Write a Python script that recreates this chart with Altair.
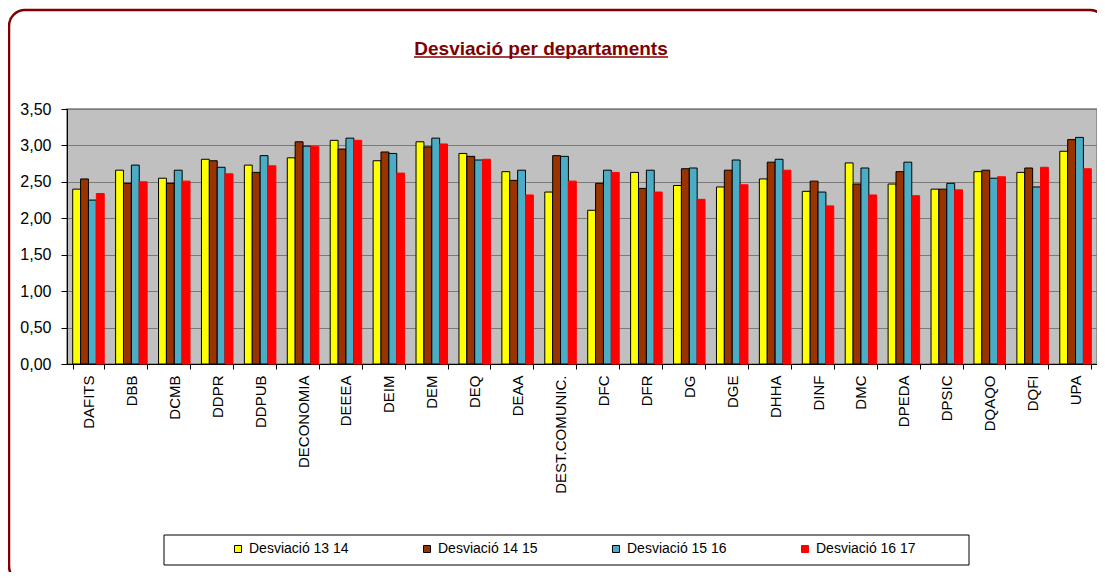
import altair as alt
import pandas as pd

departaments = ["DAFITS", "DBB", "DCMB", "DDPR", "DDPUB", "DECONOMIA", "DEEEA", "DEIM",
                "DEM", "DEQ", "DEAA", "DEST.COMUNIC.", "DFC", "DFR", "DG", "DGE", "DHHA",
                "DINF", "DMC", "DPEDA", "DPSIC", "DQAQO", "DQFI", "UPA"]

series = ["Desviació 13 14", "Desviació 14 15", "Desviació 15 16", "Desviació 16 17"]

desv_13_14 = [2.40, 2.66, 2.55, 2.81, 2.73, 2.83, 3.07, 2.79, 3.05, 2.89, 2.64, 2.36,
              2.11, 2.63, 2.45, 2.43, 2.54, 2.37, 2.76, 2.47, 2.40, 2.64, 2.63, 2.92]
desv_14_15 = [2.54, 2.48, 2.48, 2.79, 2.63, 3.05, 2.95, 2.91, 2.98, 2.85, 2.52, 2.86,
              2.48, 2.41, 2.68, 2.66, 2.77, 2.51, 2.47, 2.64, 2.40, 2.66, 2.69, 3.08]
desv_15_16 = [2.25, 2.73, 2.66, 2.70, 2.86, 2.99, 3.10, 2.89, 3.10, 2.80, 2.66, 2.85,
              2.66, 2.66, 2.69, 2.80, 2.81, 2.36, 2.69, 2.77, 2.48, 2.55, 2.43, 3.11]
desv_16_17 = [2.34, 2.50, 2.51, 2.61, 2.72, 2.99, 3.07, 2.62, 3.02, 2.81, 2.32, 2.51,
              2.63, 2.36, 2.26, 2.46, 2.66, 2.17, 2.32, 2.31, 2.39, 2.57, 2.70, 2.68]

y_ticks = [0, 0.5, 1.0, 1.5, 2.0, 2.5, 3.0, 3.5]
titol = "Desviació per departaments"

colors = ["#FFFF00", "#993300", "#4BACC6", "#FF0000"]
strokes = ["#000000", "#000000", "#000000", "#FF0000"]

rows = []
for s, vals in zip(series, [desv_13_14, desv_14_15, desv_15_16, desv_16_17]):
    for d, v in zip(departaments, vals):
        rows.append({"dept": d, "serie": s, "valor": v})
df = pd.DataFrame(rows)

W, H = 1030, 255
FONT = "Liberation Sans"

bars = alt.Chart(df).mark_bar(strokeWidth=1).encode(
    x=alt.X("dept:N", sort=departaments,
            scale=alt.Scale(paddingInner=0.266, paddingOuter=0.133),
            axis=alt.Axis(title=None, labelAngle=-90, labelFont=FONT, labelFontSize=15,
                          labelColor="black", labelPadding=6, tickSize=5, tickColor="black",
                          tickBand="extent", domainColor="black", grid=False, labelLimit=300)),
    xOffset=alt.XOffset("serie:N", sort=series,
                        scale=alt.Scale(paddingInner=0, paddingOuter=0)),
    y=alt.Y("valor:Q", scale=alt.Scale(domain=[0, 3.5], nice=False),
            axis=alt.Axis(title=None, values=y_ticks,
                          labelExpr="replace(format(datum.value, '.2f'), '.', ',')",
                          labelFont=FONT, labelFontSize=16, labelColor="black",
                          labelPadding=10, tickSize=6, tickColor="black",
                          domainColor="black", gridColor="#7A7A7A", gridWidth=1.2)),
    color=alt.Color("serie:N", sort=series,
                    scale=alt.Scale(domain=series, range=colors),
                    legend=alt.Legend(title=None, orient="none", legendX=164, legendY=433,
                                      direction="horizontal", columns=4, columnPadding=71,
                                      labelFont=FONT, labelFontSize=14, labelColor="black",
                                      labelOffset=4, symbolType="square", symbolSize=49,
                                      symbolStrokeColor="black", symbolStrokeWidth=1,
                                      padding=0)),
    stroke=alt.Stroke("serie:N", sort=series,
                      scale=alt.Scale(domain=series, range=strokes), legend=None),
)

one = pd.DataFrame({"t": [titol]})

frame = alt.Chart(one).mark_rect(fill=None, stroke="#800000", strokeWidth=2.5,
                                 cornerRadius=16).encode(
    x=alt.value(-58), x2=alt.value(1039), y=alt.value(-99), y2=alt.value(473))

legend_box = alt.Chart(one).mark_rect(fill="white", stroke="black", strokeWidth=1).encode(
    x=alt.value(97), x2=alt.value(902), y=alt.value(426), y2=alt.value(456))

title_text = alt.Chart(one).mark_text(font=FONT, fontSize=19, fontWeight="bold",
                                      color="#800000", align="center",
                                      baseline="alphabetic").encode(
    text="t:N", x=alt.value(474), y=alt.value(-54))

underline = alt.Chart(one).mark_rule(color="#800000", strokeWidth=1.6).encode(
    x=alt.value(347), x2=alt.value(601), y=alt.value(-52))

chart = alt.layer(frame, legend_box, title_text, underline, bars).properties(
    width=W, height=H,
    autosize=alt.AutoSizeParams(type="none"),
    padding={"left": 59, "top": 101, "right": 0, "bottom": 208},
    background="white",
).configure_view(fill="#C0C0C0", stroke="#808080", strokeWidth=1.5)

chart.save("out.html", embed_options={"renderer": "svg", "actions": False})
